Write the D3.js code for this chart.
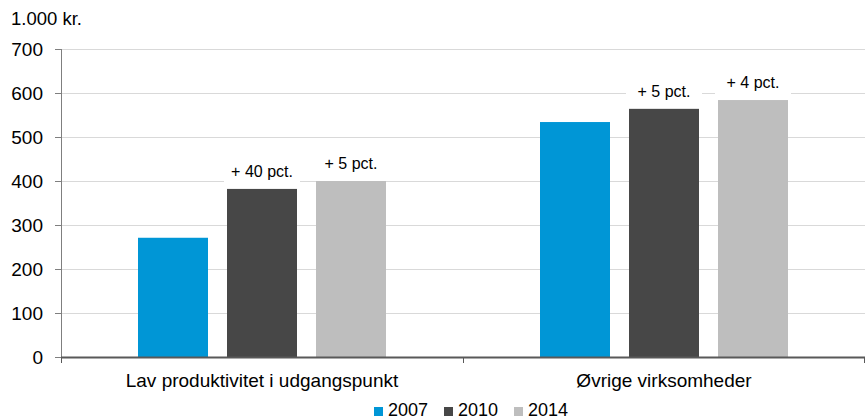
<!DOCTYPE html>
<html>
<head>
<meta charset="utf-8">
<script src="https://cdn.jsdelivr.net/npm/d3@7"></script>
<style>
  body { margin: 0; background: #fff; }
  text { font-family: "Liberation Sans", Arial, sans-serif; fill: #000; }
</style>
</head>
<body>
<div class="chart"></div>
<script>
const categories = ["Lav produktivitet i udgangspunkt", "Øvrige virksomheder"];
const years = ["2007", "2010", "2014"];
const values2007 = [271, 534];
const values2010 = [382, 564];
const values2014 = [400, 584];
const changeLabels2010 = ["+ 40 pct.", "+ 5 pct."];
const changeLabels2014 = ["+ 5 pct.", "+ 4 pct."];
const yTicks = [0, 100, 200, 300, 400, 500, 600, 700];

const colors = { "2007": "#0096d6", "2010": "#474747", "2014": "#bebebe" };

const margin = { top: 49, right: 0, bottom: 62, left: 61 };
const width = 865 - margin.left - margin.right;
const height = 419 - margin.top - margin.bottom;

const series = years.map((yr, i) => ({
  year: yr,
  values: [values2007, values2010, values2014][i],
  labels: [null, changeLabels2010, changeLabels2014][i]
}));

const x0 = d3.scaleBand()
  .domain(categories)
  .range([0, width])
  .paddingInner(0)
  .paddingOuter(0);

const x1 = d3.scaleBand()
  .domain(years)
  .range([77, x0.bandwidth() - 77])
  .paddingInner(19 / 89)
  .paddingOuter(0);

const y = d3.scaleLinear()
  .domain([0, 700])
  .range([height, 0]);

const svg = d3.select(".chart").append("svg")
  .attr("width", 865)
  .attr("height", 419);

const g = svg.append("g")
  .attr("transform", `translate(${margin.left},${margin.top})`);

// gridlines
g.append("g")
  .selectAll("line")
  .data(yTicks.filter(d => d > 0))
  .join("line")
  .attr("x1", 0)
  .attr("x2", width)
  .attr("y1", d => Math.round(y(d)) + 0.5)
  .attr("y2", d => Math.round(y(d)) + 0.5)
  .attr("stroke", "#d9d9d9")
  .attr("stroke-width", 1);

// bars
const groups = g.append("g")
  .selectAll("g")
  .data(series)
  .join("g");

groups.selectAll("rect")
  .data(s => s.values.map((v, i) => ({ year: s.year, cat: categories[i], value: v })))
  .join("rect")
  .attr("x", d => x0(d.cat) + x1(d.year))
  .attr("width", x1.bandwidth())
  .attr("y", d => y(d.value))
  .attr("height", d => y(0) - y(d.value))
  .attr("fill", d => colors[d.year]);

// change labels with white boxes
const labelData = [];
series.forEach(s => {
  if (!s.labels) return;
  s.values.forEach((v, i) => {
    labelData.push({ year: s.year, cat: categories[i], value: v, text: s.labels[i] });
  });
});

const labels = g.append("g")
  .selectAll("g")
  .data(labelData)
  .join("g")
  .attr("transform", d => `translate(${x0(d.cat) + x1(d.year) + x1.bandwidth() / 2},${y(d.value) - 18})`);

labels.append("rect")
  .attr("x", -38)
  .attr("y", -12)
  .attr("width", 76)
  .attr("height", 24)
  .attr("fill", "#fff");

labels.append("text")
  .attr("text-anchor", "middle")
  .attr("dy", "0.36em")
  .style("font-size", "16px")
  .text(d => d.text);

// y axis
const yAxis = d3.axisLeft(y)
  .tickValues(yTicks)
  .tickSize(6)
  .tickPadding(12);

const yAxisG = g.append("g")
  .call(yAxis);
yAxisG.select(".domain").attr("stroke", "#7f7f7f").attr("d", `M0.5,0V${height}`);
yAxisG.selectAll(".tick line").attr("stroke", "#7f7f7f");
yAxisG.selectAll(".tick text")
  .style("font-size", "19px")
  .style("font-family", "'Liberation Sans', Arial, sans-serif")
  .attr("fill", "#000");

// x axis
const xAxisG = g.append("g")
  .attr("transform", `translate(0,${height})`);

xAxisG.append("line")
  .attr("x1", 0)
  .attr("x2", width)
  .attr("y1", 0.5)
  .attr("y2", 0.5)
  .attr("stroke", "#595959")
  .attr("stroke-width", 2);

xAxisG.selectAll("line.tick")
  .data([0, x0(categories[1]), width])
  .join("line")
  .attr("class", "tick")
  .attr("x1", d => Math.min(d, width - 1) + 0.5)
  .attr("x2", d => Math.min(d, width - 1) + 0.5)
  .attr("y1", 0)
  .attr("y2", 6)
  .attr("stroke", "#595959");

xAxisG.selectAll("text")
  .data(categories)
  .join("text")
  .attr("x", d => x0(d) + x0.bandwidth() / 2)
  .attr("y", 30)
  .attr("text-anchor", "middle")
  .style("font-size", "19px")
  .text(d => d);

// unit label
svg.append("text")
  .attr("x", 11)
  .attr("y", 25)
  .style("font-size", "18.5px")
  .text("1.000 kr.");

// legend
const legendItems = [
  { year: "2007", x: 374 },
  { year: "2010", x: 444 },
  { year: "2014", x: 514 }
];
const legend = svg.append("g")
  .selectAll("g")
  .data(legendItems)
  .join("g")
  .attr("transform", d => `translate(${d.x},407)`);

legend.append("rect")
  .attr("width", 9)
  .attr("height", 9)
  .attr("fill", d => colors[d.year]);

legend.append("text")
  .attr("x", 14)
  .attr("y", 9)
  .style("font-size", "18px")
  .text(d => d.year);
</script>
</body>
</html>
